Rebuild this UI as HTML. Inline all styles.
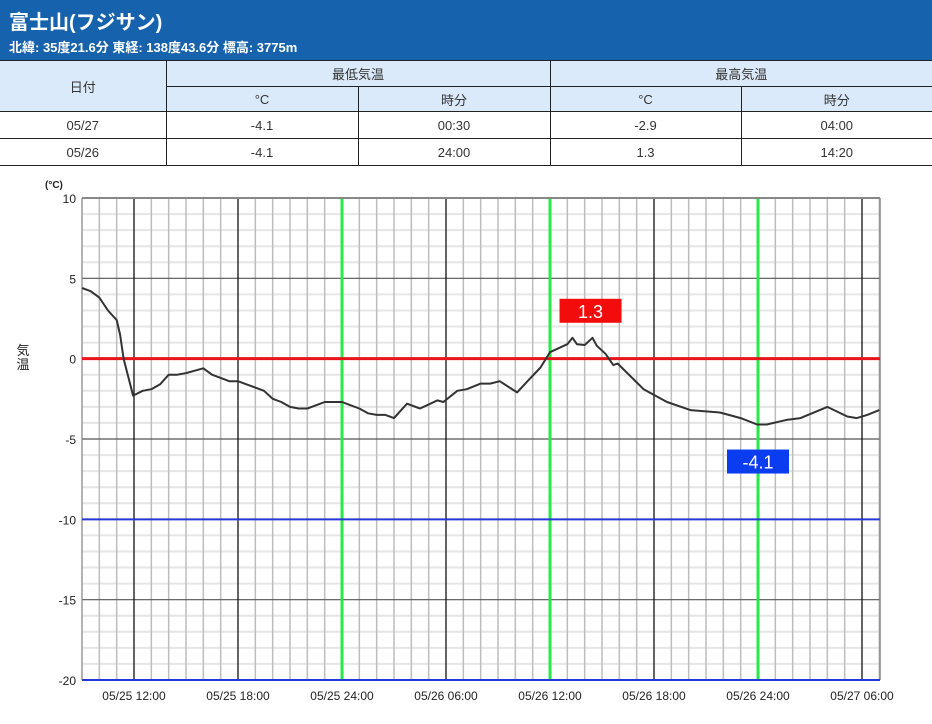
<!DOCTYPE html>
<html><head><meta charset="utf-8">
<style>
body{margin:0;width:932px;height:724px;background:#fff;font-family:"Liberation Sans","Noto Sans CJK JP",sans-serif;overflow:hidden;position:relative}
#hdr{position:absolute;left:0;top:0;width:932px;height:60px;background:#1762ac;color:#fff}
#ttl{position:absolute;left:9px;top:6px;font-size:20px;font-weight:bold}
#sub{position:absolute;left:9px;top:37px;font-size:13px;font-weight:bold}
table{position:absolute;left:0;top:60px;width:932px;border-collapse:collapse;font-size:13px;color:#333;table-layout:fixed}
td{text-align:center;padding:0;border:1px solid #222}
td.dl{border-left:1px dotted #222}
tr.h td{background:#dbeafa}
</style></head><body>
<div id="hdr">
<div id="ttl">富士山(フジサン)</div>
<div id="sub">北緯: 35度21.6分 東経: 138度43.6分 標高: 3775m</div>
</div>
<table>
<colgroup><col style="width:166px"><col style="width:192px"><col style="width:192px"><col style="width:191px"><col style="width:191px"></colgroup>
<tr class="h" style="height:26px"><td rowspan="2" style="border-left:none">日付</td><td colspan="2">最低気温</td><td colspan="2" style="border-right:none">最高気温</td></tr>
<tr class="h" style="height:25px"><td>°C</td><td class="dl">時分</td><td>°C</td><td class="dl" style="border-right:none">時分</td></tr>
<tr style="height:27px"><td style="border-left:none">05/27</td><td>-4.1</td><td class="dl">00:30</td><td>-2.9</td><td class="dl" style="border-right:none">04:00</td></tr>
<tr style="height:27px"><td style="border-left:none">05/26</td><td>-4.1</td><td class="dl">24:00</td><td>1.3</td><td class="dl" style="border-right:none">14:20</td></tr>
</table>
<svg id="chart" width="932" height="724" style="position:absolute;left:0;top:0" font-family="Liberation Sans, Noto Sans CJK JP, sans-serif"></svg>
<script>
const times=[9,9.5,10,10.5,11,11.2,11.4,11.95,12.5,13,13.5,14,14.5,15,15.5,16,16.5,17,17.5,18,18.5,19,19.5,20,20.5,21,21.5,22,22.5,23,24,24.5,25,25.5,26,26.5,27,27.75,28.5,28.9,29.5,29.85,30.65,31.2,32,32.55,33.1,34.1,34.7,35.45,36,37,37.3,37.55,38,38.45,38.7,39.2,39.65,39.9,41.4,42.75,44.1,45.8,47,47.95,48.5,49.7,50.45,52,53.15,53.7,54.3,55];
const temps=[4.4,4.2,3.8,3.0,2.4,1.5,0,-2.3,-2.0,-1.9,-1.6,-1.0,-1.0,-0.9,-0.75,-0.6,-1.0,-1.2,-1.4,-1.4,-1.6,-1.8,-2.0,-2.5,-2.7,-3.0,-3.1,-3.1,-2.9,-2.7,-2.7,-2.9,-3.1,-3.4,-3.5,-3.5,-3.7,-2.8,-3.1,-2.9,-2.6,-2.7,-2.0,-1.9,-1.55,-1.55,-1.4,-2.1,-1.4,-0.55,0.4,0.9,1.3,0.9,0.85,1.3,0.8,0.3,-0.4,-0.3,-1.9,-2.7,-3.2,-3.35,-3.7,-4.1,-4.1,-3.8,-3.7,-3.0,-3.6,-3.7,-3.5,-3.2];
const yTicks=[10,5,0,-5,-10,-15,-20];
const xTickHours=[12,18,24,30,36,42,48,54];
const xTickLabels=["05/25 12:00","05/25 18:00","05/25 24:00","05/26 06:00","05/26 12:00","05/26 18:00","05/26 24:00","05/27 06:00"];
const greenHours=[24,36,48];
const maxLabel={hour:37.3,value:1.3};
const minLabel={hour:48,value:-4.1};

const X0=82,X1=880,Y0=198,Y1=680,H0=9,HPX=104/6,TMAX=10,TMIN=-20;
const xs=h=>X0+(h-H0)*HPX;
const ys=t=>Y0+(TMAX-t)*(Y1-Y0)/(TMAX-TMIN);
const svg=document.getElementById('chart');
const NS='http://www.w3.org/2000/svg';
function mk(tag,a){const e=document.createElementNS(NS,tag);for(const k in a)e.setAttribute(k,a[k]);svg.appendChild(e);return e;}
for(let t=TMIN;t<=TMAX;t++){if(t%5===0)continue;const l=mk('line',{x1:X0,x2:X1,y1:ys(t),y2:ys(t),stroke:'#e6e6e6','stroke-width':2});

}
for(let h=H0;xs(h)<=X1;h++){if(h%6===0)continue;const l=mk('line',{x1:xs(h),x2:xs(h),y1:Y0,y2:Y1,stroke:'#bdbdbd','stroke-width':1.5});

}
yTicks.forEach(t=>{const l=mk('line',{x1:X0,x2:X1,y1:ys(t),y2:ys(t),stroke:'#555','stroke-width':1.2});


const tx=mk('text',{x:76,y:ys(t)+5,'text-anchor':'end','font-size':12,fill:'#222'});tx.textContent=t;

});
xTickHours.forEach((h,i)=>{const green=greenHours.includes(h);const l=mk('line',{x1:xs(h),x2:xs(h),y1:Y0,y2:Y1,stroke:green?'#22ee44':'#111','stroke-width':green?3:1.3});


const tx=mk('text',{x:xs(h),y:700,'text-anchor':'middle','font-size':12,fill:'#222'});tx.textContent=xTickLabels[i];

});
const bt=mk('line',{x1:X0,x2:X1,y1:Y0,y2:Y0,stroke:'#888','stroke-width':2});


const br=mk('line',{x1:X1,x2:X1,y1:Y0,y2:Y1,stroke:'#888','stroke-width':1.5});


const bl=mk('line',{x1:X0,x2:X0,y1:Y0,y2:Y1,stroke:'#888','stroke-width':1});


const z=mk('line',{x1:X0,x2:X1,y1:ys(0),y2:ys(0),stroke:'#e8141a','stroke-width':3});


[-10,-20].forEach(t=>{const l=mk('line',{x1:X0,x2:X1,y1:ys(t),y2:ys(t),stroke:'#2438d8','stroke-width':2});

});
const pts=times.map((h,i)=>xs(h).toFixed(1)+','+ys(temps[i]).toFixed(1)).join(' ');
const pl=mk('polyline',{points:pts,fill:'none',stroke:'#333','stroke-width':2,'stroke-linejoin':'round'});


function box(lbl,color,dy,name){const cx=xs(lbl.hour)+(name==='max-label'?18:0);const cy=ys(lbl.value)+dy;
const r=mk('rect',{x:cx-31,y:cy-12,width:62,height:24,fill:color});


const t=mk('text',{x:cx,y:cy+7,'text-anchor':'middle','font-size':18,fill:'#fff'});t.textContent=lbl.value;

}
box(maxLabel,'#f20c0c',-27,'max-label');
box(minLabel,'#0a3cf0',37,'min-label');
const u=mk('text',{x:45,y:188,'font-size':10,'font-weight':'bold',fill:'#222'});u.textContent='(°C)';


const yt1=mk('text',{x:23,y:355,'text-anchor':'middle','font-size':13,fill:'#222'});yt1.textContent='気';


const yt2=mk('text',{x:23,y:369,'text-anchor':'middle','font-size':13,fill:'#222'});yt2.textContent='温';


</script>
</body></html>
